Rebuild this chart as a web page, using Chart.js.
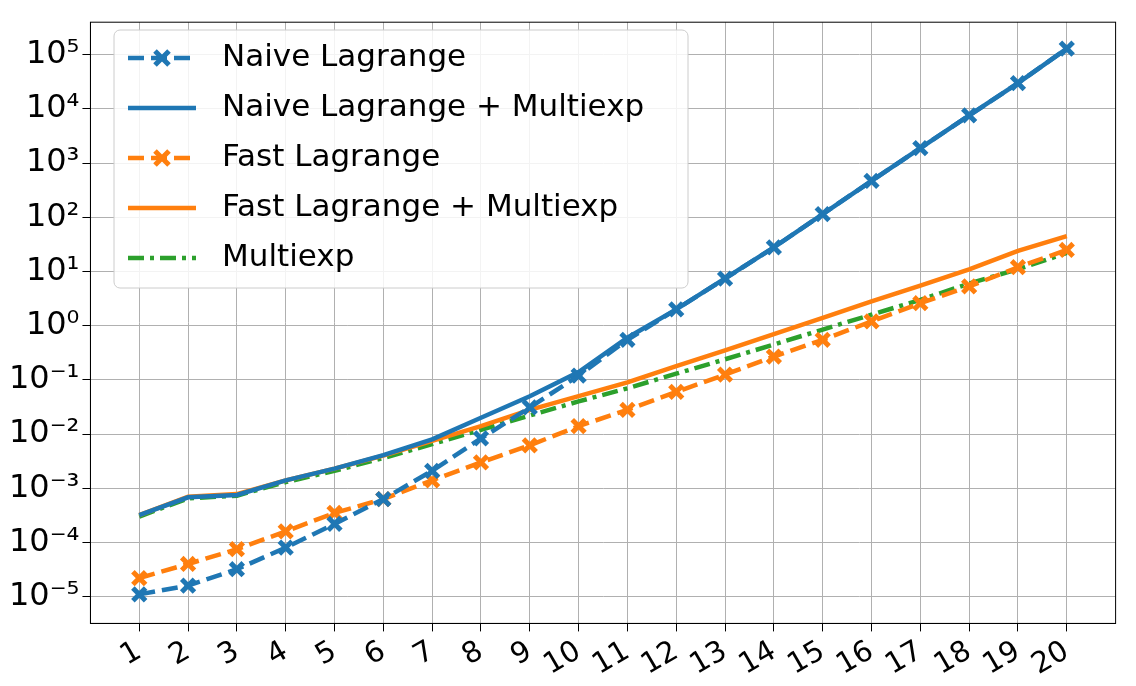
<!DOCTYPE html>
<html><head><meta charset="utf-8">
<script src="https://cdn.jsdelivr.net/npm/chart.js@4"></script>
<style>html,body{margin:0;background:#fff}#wrap{width:1136px;height:686px}</style>
</head><body><div id="wrap"><canvas id="myChart"></canvas></div>
<script>
var categories = ["1","2","3","4","5","6","7","8","9","10","11","12","13","14","15","16","17","18","19","20"];
var naiveLagrange = [1.1e-5,1.6e-5,3.2e-5,8e-5,2.2e-4,6.3e-4,2.1e-3,8.3e-3,0.031,0.12,0.55,2,7.4,28,115,470,1900,7600,30000,130000];
var naiveMultiexp = [3.2e-4,6.8e-4,7.5e-4,1.4e-3,2.3e-3,4.1e-3,8e-3,0.02,0.05,0.14,0.6,2,7.5,28,115,470,1900,7600,30000,130000];
var fastLagrange = [2.2e-5,4e-5,7.5e-5,1.6e-4,3.5e-4,6.3e-4,1.4e-3,3e-3,6.2e-3,0.014,0.028,0.06,0.125,0.27,0.55,1.2,2.6,5.3,12,25];
var fastMultiexp = [3.2e-4,7e-4,7.8e-4,1.4e-3,2.3e-3,4e-3,7.5e-3,0.014,0.028,0.05,0.09,0.18,0.35,0.7,1.4,2.8,5.5,11,24,45];
var multiexp = [3e-4,6.5e-4,7.3e-4,1.3e-3,2.1e-3,3.6e-3,6.5e-3,0.012,0.022,0.04,0.07,0.13,0.24,0.45,0.85,1.6,3,6,11,22];
var tickExponents = [-5,-4,-3,-2,-1,0,1,2,3,4,5];

var sup = {"-":"⁻","0":"⁰","1":"¹","2":"²","3":"³","4":"⁴","5":"⁵"};
function powLabel(e) { return "10" + String(e).split("").map(function (c) { return sup[c]; }).join(""); }

// pad the category axis with one empty slot on each side (matplotlib-like margins)
var labels = [""].concat(categories, [""]);
function pad(arr) { return [null].concat(arr, [null]); }

var blue = "#1f77b4", orange = "#ff7f0e", green = "#2ca02c";
function ds(label, data, color, dash, marker) {
  return {
    label: label, data: pad(data), borderColor: color, backgroundColor: color,
    borderWidth: 4.5, borderDash: dash, pointStyle: marker ? "crossRot" : false,
    pointRadius: marker ? 9 : 0, pointBorderWidth: 5, tension: 0
  };
}

var legendBox = {
  id: "legendBox",
  afterDraw: function (chart) {
    var c = chart.ctx, x = 114, y = 30, w = 574, h = 258;
    c.save();
    c.fillStyle = "rgba(255,255,255,0.85)";
    c.strokeStyle = "#ccc";
    c.lineWidth = 1;
    c.beginPath();
    c.roundRect(x, y, w, h, 6);
    c.fill(); c.stroke();
    c.font = "31px 'DejaVu Sans'";
    c.textBaseline = "middle";
    chart.data.datasets.forEach(function (d, i) {
      var yy = y + 28 + i * 50;
      c.strokeStyle = d.borderColor;
      c.lineWidth = 4.5;
      c.setLineDash(d.borderDash || []);
      c.beginPath(); c.moveTo(128, yy); c.lineTo(196, yy); c.stroke();
      c.setLineDash([]);
      if (d.pointStyle) {
        c.lineWidth = 5;
        c.beginPath();
        c.moveTo(155, yy - 7); c.lineTo(169, yy + 7);
        c.moveTo(169, yy - 7); c.lineTo(155, yy + 7);
        c.stroke();
      }
      c.fillStyle = "#000";
      c.fillText(d.label, 222, yy);
    });
    c.restore();
  }
};

function edge(ctx2) { return ctx2.index === 0 || ctx2.index === labels.length - 1; }

var ctx = document.getElementById("myChart").getContext("2d");
new Chart(ctx, {
  type: "line",
  data: {
    labels: labels,
    datasets: [
      ds("Naive Lagrange", naiveLagrange, blue, [16, 7], true),
      ds("Naive Lagrange + Multiexp", naiveMultiexp, blue, [], false),
      ds("Fast Lagrange", fastLagrange, orange, [16, 7], true),
      ds("Fast Lagrange + Multiexp", fastMultiexp, orange, [], false),
      ds("Multiexp", multiexp, green, [16, 6, 4, 6], false)
    ]
  },
  options: {
    responsive: true, maintainAspectRatio: false, animation: false,
    layout: { padding: { top: 14, right: 14, left: 6, bottom: 0 } },
    plugins: { legend: { display: false }, tooltip: { enabled: false } },
    scales: {
      x: {
        offset: false,
        grid: {
          color: function (c) { return edge(c) ? "rgba(0,0,0,0)" : "#b0b0b0"; },
          tickColor: function (c) { return edge(c) ? "rgba(0,0,0,0)" : "#000"; },
          tickLength: 8
        },
        border: { color: "#000", width: 1 },
        ticks: { color: "#000", font: { family: "DejaVu Sans", size: 29 }, maxRotation: 30, minRotation: 30, autoSkip: false }
      },
      y: {
        type: "logarithmic", min: 3.2e-6, max: 4e5,
        afterBuildTicks: function (axis) {
          axis.ticks = tickExponents.map(function (e) { return { value: Math.pow(10, e) }; });
        },
        grid: { color: "#b0b0b0", tickLength: 8, tickColor: "#000" },
        border: { color: "#000", width: 1 },
        ticks: {
          color: "#000", font: { family: "DejaVu Sans", size: 32 },
          callback: function (v) { return powLabel(Math.round(Math.log10(v))); }
        }
      }
    }
  },
  plugins: [legendBox, {
    id: "frame",
    afterDraw: function (chart) {
      var a = chart.chartArea, c = chart.ctx;
      c.save(); c.strokeStyle = "#000"; c.lineWidth = 1;
      c.strokeRect(a.left, a.top, a.right - a.left, a.bottom - a.top);
      c.restore();
    }
  }]
});
</script>
</body></html>
